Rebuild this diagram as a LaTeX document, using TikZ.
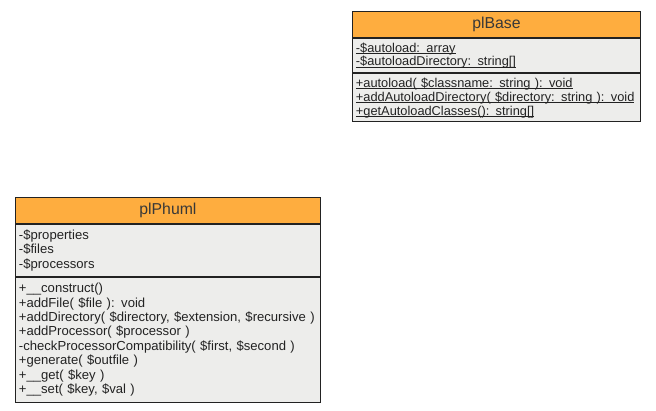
\documentclass[tikz,border=0pt]{standalone}
\usepackage{fontspec}
\setmainfont{Liberation Sans}
\usepackage{xcolor}
\definecolor{headorange}{HTML}{FEAD3F}
\definecolor{bodygray}{HTML}{EDEDEB}
\definecolor{linegray}{HTML}{222222}
\newcommand{\tightlines}{\lineskiplimit=-6pt\relax}
% underline close to the baseline, as in the reference
\newcommand{\statictext}[1]{\setbox0\hbox{#1}\leavevmode\rlap{\vrule height -1.2pt depth 1.9pt width \wd0}\box0}

\tikzset{
  classhead/.style={draw=linegray, fill=headorange, anchor=north west, inner sep=0pt,
    font=\fontsize{15.8}{17}\selectfont, text=linegray!90},
  classpart/.style={draw=linegray, fill=bodygray, anchor=north west, inner ysep=0pt, inner xsep=3.5pt,
    align=left, font=\fontsize{13.1}{14.4}\selectfont, text=linegray,
    execute at begin node=\tightlines},
  staticpart/.style={classpart, font=\fontsize{12.8}{13.9}\selectfont},
}

\begin{document}
\begin{tikzpicture}[x=1pt, y=-1pt, line width=0.9pt]
\useasboundingbox (0,0) rectangle (656,411);

% plBase
\node (bh) at (352,11) [classhead, minimum width=288pt, minimum height=26pt] {plBase};
\node (ba) at (bh.south west) [staticpart, minimum width=288pt, minimum height=34.5pt, text width=281pt] {\statictext{-\$autoload: array}\\\statictext{-\$autoloadDirectory: string[]}};
\node (bm) at (ba.south west) [staticpart, minimum width=288pt, minimum height=48pt, text width=281pt] {\statictext{+autoload( \$classname: string ): void}\\\statictext{+addAutoloadDirectory( \$directory: string ): void}\\\statictext{+getAutoloadClasses(): string[]}};

% plPhuml
\node (ph) at (15,197) [classhead, minimum width=305pt, minimum height=26pt] {plPhuml};
\node (pa) at (ph.south west) [classpart, minimum width=305pt, minimum height=52pt, text width=298pt] {-\$properties\\-\$files\\-\$processors};
\node (pm) at (pa.south west) [classpart, minimum width=305pt, minimum height=125pt, text width=298pt] {+\_\_construct()\\+addFile( \$file ): void\\+addDirectory( \$directory, \$extension, \$recursive )\\+addProcessor( \$processor )\\-checkProcessorCompatibility( \$first, \$second )\\+generate( \$outfile )\\+\_\_get( \$key )\\+\_\_set( \$key, \$val )};
\end{tikzpicture}
\end{document}
